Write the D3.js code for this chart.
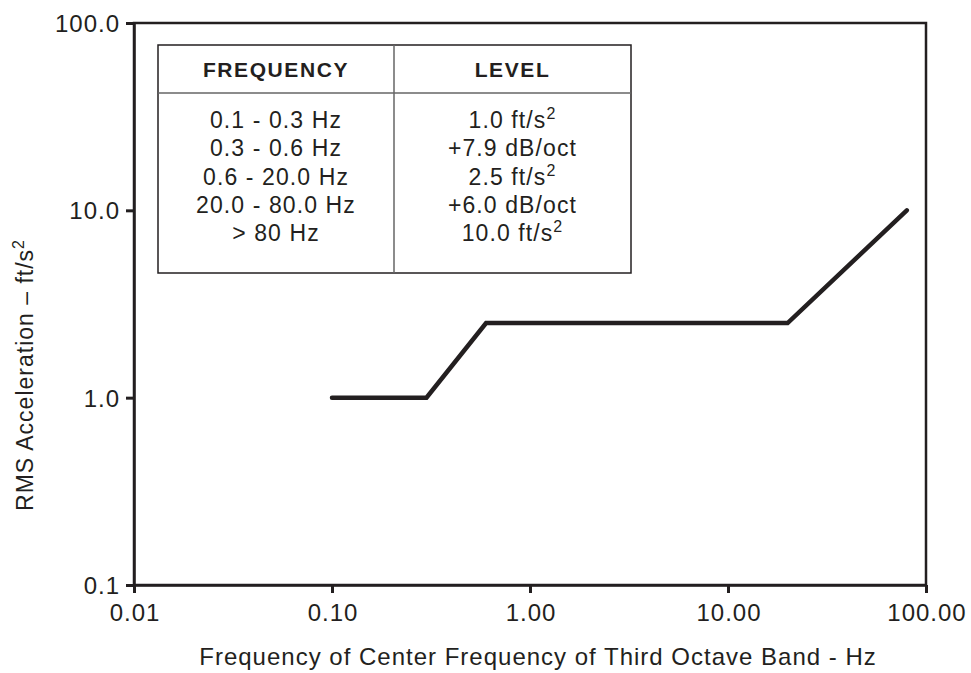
<!DOCTYPE html>
<html>
<head>
<meta charset="utf-8">
<script src="https://cdn.jsdelivr.net/npm/d3@7"></script>
<style>
  body { margin: 0; background: #fff; }
  svg { display: block; font-family: "Liberation Sans", Arial, sans-serif; }
</style>
</head>
<body>
<div id="chart"></div>
<script>
// Breakpoints of the acceleration spectrum (Hz, ft/s^2)
const freqs = [0.1, 0.3, 0.6, 20, 80];
const accels = [1.0, 1.0, 2.5, 2.5, 10.0];

const xTicks = [0.01, 0.1, 1, 10, 100];
const yTicks = [0.1, 1, 10, 100];

// Table contents
const tableHeaders = ["FREQUENCY", "LEVEL"];
const freqRanges = ["0.1 - 0.3 Hz", "0.3 - 0.6 Hz", "0.6 - 20.0 Hz", "20.0 - 80.0 Hz", "> 80 Hz"];
const levels = [
    { text: "1.0 ft/s", sup: "2" },
    { text: "+7.9 dB/oct", sup: "" },
    { text: "2.5 ft/s", sup: "2" },
    { text: "+6.0 dB/oct", sup: "" },
    { text: "10.0 ft/s", sup: "2" }
];

const width = 971, height = 673;
const ink = "#231f20";
const fontSize = "24px";
const tracking = "1px";

const svg = d3.select("#chart").append("svg")
    .attr("width", width)
    .attr("height", height);

const x = d3.scaleLog().domain([0.01, 100]).range([134, 926]);
const y = d3.scaleLog().domain([0.1, 100]).range([585, 23]);

// frame
svg.append("rect")
    .attr("x", x.range()[0])
    .attr("y", y.range()[1])
    .attr("width", x.range()[1] - x.range()[0])
    .attr("height", y.range()[0] - y.range()[1])
    .attr("fill", "none")
    .attr("stroke", ink)
    .attr("stroke-width", 2.5);

const xAxis = svg.append("g")
    .attr("transform", `translate(0,${y.range()[0]})`)
    .call(d3.axisBottom(x).tickValues(xTicks).tickFormat(d3.format(".2f")).tickSize(8).tickSizeOuter(0));

const yAxis = svg.append("g")
    .attr("transform", `translate(${x.range()[0]},0)`)
    .call(d3.axisLeft(y).tickValues(yTicks).tickFormat(d3.format(".1f")).tickSize(8).tickSizeOuter(0));

[xAxis, yAxis].forEach(g => {
    g.select(".domain").attr("stroke", ink).attr("stroke-width", 2.5);
    g.selectAll(".tick line").attr("stroke", ink).attr("stroke-width", 3);
    g.selectAll(".tick text")
        .attr("fill", ink)
        .style("font-size", fontSize)
        .style("font-family", "'Liberation Sans', Arial, sans-serif")
        .style("letter-spacing", tracking);
});
xAxis.selectAll(".tick text").attr("dy", null).attr("y", 36).attr("dx", "0.5px");
yAxis.selectAll(".tick text").attr("x", -14).attr("dy", "0.36em");

// axis titles
svg.append("text")
    .attr("x", 538)
    .attr("y", 665)
    .attr("text-anchor", "middle")
    .attr("fill", ink)
    .style("font-size", fontSize)
    .style("letter-spacing", tracking)
    .text("Frequency of Center Frequency of Third Octave Band - Hz");

const yTitle = svg.append("text")
    .attr("transform", "translate(33,375) rotate(-90)")
    .attr("text-anchor", "middle")
    .attr("fill", ink)
    .style("font-size", "23px")
    .style("letter-spacing", tracking);
yTitle.append("tspan").text("RMS Acceleration \u2013 ft/s");
yTitle.append("tspan").attr("dy", -9).style("font-size", "16px").text("2");

// spectrum line
const line = d3.line().x((d, i) => x(freqs[i])).y(d => y(d));
svg.append("path")
    .datum(accels)
    .attr("d", line)
    .attr("fill", "none")
    .attr("stroke", ink)
    .attr("stroke-width", 4.5)
    .attr("stroke-linecap", "round")
    .attr("stroke-linejoin", "miter");

// table
const tbl = { left: 158, right: 631, top: 45, head: 93, bottom: 273, split: 394 };
const tg = svg.append("g");
tg.append("rect")
    .attr("x", tbl.left).attr("y", tbl.top)
    .attr("width", tbl.right - tbl.left).attr("height", tbl.bottom - tbl.top)
    .attr("fill", "#fff").attr("stroke", ink).attr("stroke-width", 1.5);
tg.append("line")
    .attr("x1", tbl.left).attr("x2", tbl.right).attr("y1", tbl.head).attr("y2", tbl.head)
    .attr("stroke", "#666").attr("stroke-width", 1.5);
tg.append("line")
    .attr("x1", tbl.split).attr("x2", tbl.split).attr("y1", tbl.top).attr("y2", tbl.bottom)
    .attr("stroke", "#666").attr("stroke-width", 1.5);

const colX = [(tbl.left + tbl.split) / 2, (tbl.split + tbl.right) / 2];
tg.selectAll("text.head")
    .data(tableHeaders)
    .join("text")
    .attr("class", "head")
    .attr("x", (d, i) => colX[i])
    .attr("y", 77)
    .attr("text-anchor", "middle")
    .attr("fill", ink)
    .style("font-size", "21px")
    .style("font-weight", "bold")
    .style("letter-spacing", "1.6px")
    .text(d => d);

const rowY = i => 128 + i * 28.3;
tg.selectAll("text.freq")
    .data(freqRanges)
    .join("text")
    .attr("class", "freq")
    .attr("x", colX[0])
    .attr("y", (d, i) => rowY(i))
    .attr("text-anchor", "middle")
    .attr("fill", ink)
    .style("font-size", "23px")
    .style("letter-spacing", "1.1px")
    .text(d => d);

const lv = tg.selectAll("text.level")
    .data(levels)
    .join("text")
    .attr("class", "level")
    .attr("x", colX[1])
    .attr("y", (d, i) => rowY(i))
    .attr("text-anchor", "middle")
    .attr("fill", ink)
    .style("font-size", "23px")
    .style("letter-spacing", "1.1px");
lv.append("tspan").text(d => d.text);
lv.append("tspan").attr("dy", -9).style("font-size", "16px").text(d => d.sup);
</script>
</body>
</html>
